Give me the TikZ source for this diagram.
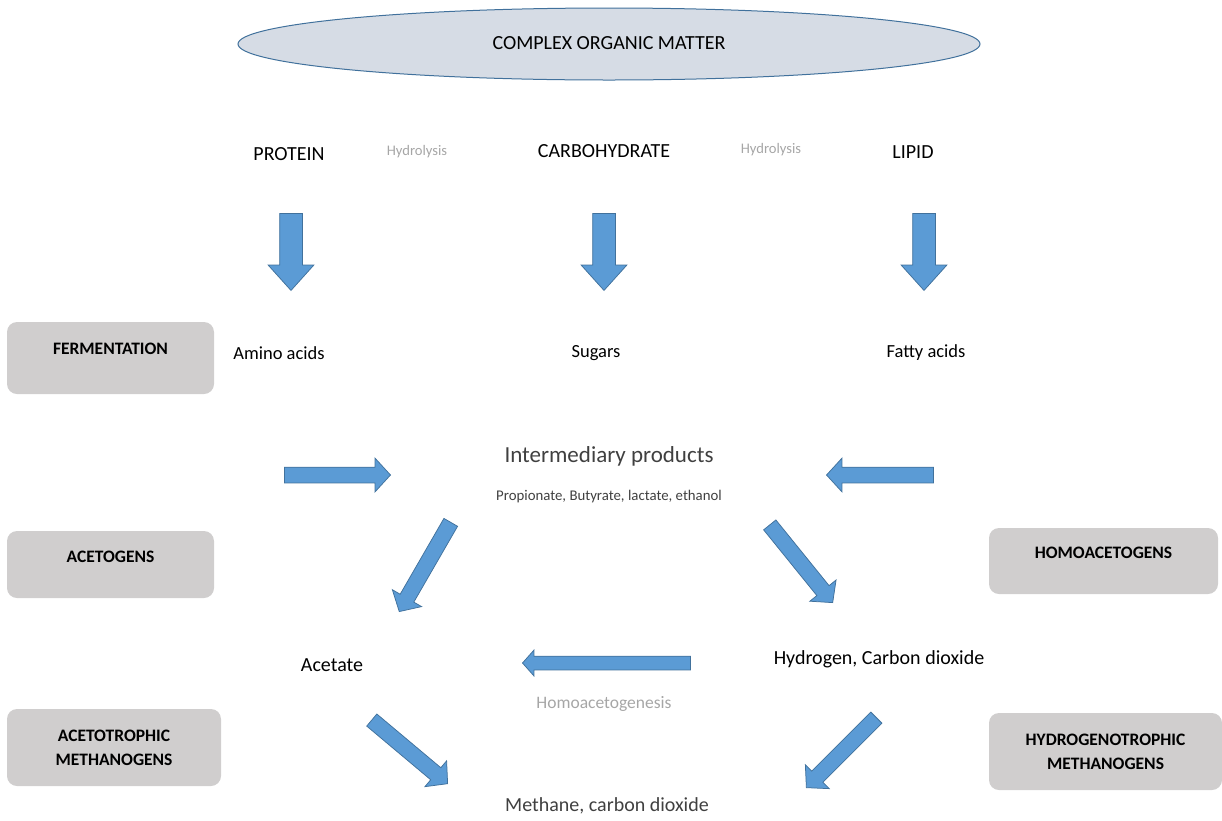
\documentclass[tikz,border=0pt]{standalone}
\usepackage{fontspec}
\setmainfont{Carlito}
\definecolor{arrowblue}{HTML}{5B9BD5}
\definecolor{arrowedge}{HTML}{41719C}
\definecolor{ovalfill}{HTML}{D6DCE5}
\definecolor{ovaledge}{HTML}{41719C}
\definecolor{boxgray}{HTML}{D0CECE}
\definecolor{notegray}{HTML}{A6A6A6}
\definecolor{textgray}{HTML}{404040}
\usetikzlibrary{shapes.geometric,shapes.arrows,positioning}

\begin{document}
\begin{tikzpicture}[
  x=1pt,y=-1pt,
  every node/.style={inner sep=0pt},
  big/.style={font=\fontsize{20}{24}\selectfont},
  mid/.style={font=\fontsize{18.5}{22}\selectfont},
  note/.style={font=\fontsize{14.6}{18}\selectfont,text=notegray},
  stagebox/.style={fill=boxgray,rounded corners=10pt,align=center,
                   font=\fontsize{17.5}{24}\selectfont\bfseries},
  blockarrow/.style={single arrow,draw=arrowedge,fill=arrowblue,line width=0.75pt,
                     inner xsep=0pt,inner ysep=7.5pt,single arrow head extend=9pt,
                     single arrow tip angle=95,anchor=tip},
  downarrow/.style={blockarrow,inner ysep=11pt,single arrow head extend=11.5pt,
                    single arrow tip angle=84,minimum height=77pt,rotate=-90},
]
  \useasboundingbox (0,0) rectangle (1222,820);

  % Top
  \node[ellipse,draw=ovaledge,fill=ovalfill,line width=1pt,
        minimum width=742pt,minimum height=72pt] (com) at (609,44) {};
  \node[big] (comtxt) at (609,43) {COMPLEX ORGANIC MATTER};

  \node[big] (protein) at (289,154) {PROTEIN};
  \node[note] (hyd1) at (417,152) {Hydrolysis};
  \node[big] (carb) at (604,151) {CARBOHYDRATE};
  \node[note] (hyd2) at (771,150) {Hydrolysis};
  \node[big] (lipid) at (913,152) {LIPID};

  \node[downarrow] (aprot) at (291,291) {};
  \node[downarrow] (acarb) at (604,291) {};
  \node[downarrow] (alip) at (924,291) {};

  % Stages
  \node[stagebox,minimum width=207pt,minimum height=72pt,text depth=18pt]
    (ferm) at (110.5,358) {FERMENTATION};
  \node[stagebox,minimum width=207pt,minimum height=67pt,text depth=15pt]
    (aceto) at (110.5,564.5) {ACETOGENS};
  \node[stagebox,minimum width=229pt,minimum height=66pt,text depth=16pt]
    (homo) at (1103.5,561) {HOMOACETOGENS};
  \node[stagebox,minimum width=214pt,minimum height=77pt]
    (acmeth) at (114,747.5) {ACETOTROPHIC\\METHANOGENS};
  \node[stagebox,minimum width=233pt,minimum height=77pt]
    (hymeth) at (1105.5,751.5) {HYDROGENOTROPHIC\\METHANOGENS};

  % Products
  \node[mid] (amino) at (279,353) {Amino acids};
  \node[mid] (sugar) at (596,353) {Sugars};
  \node[mid] (fatty) at (926,353) {Fatty acids};

  \node[font=\fontsize{23}{28}\selectfont,text=textgray] (inter) at (609,456) {Intermediary products};
  \node[font=\fontsize{14.8}{18}\selectfont,text=textgray] (intlist) at (609,497)
    {Propionate, Butyrate, lactate, ethanol};

  \node[blockarrow,minimum height=106pt] (ain) at (391,475) {};
  \node[blockarrow,minimum height=107pt,rotate=180] (aout) at (826,475) {};
  \node[blockarrow,minimum height=103pt,rotate=240] (aace) at (399,612) {};
  \node[blockarrow,minimum height=100pt,rotate=-51] (ahyd) at (833,603) {};

  \node[font=\fontsize{20}{24}\selectfont] (acetate) at (332,665) {Acetate};
  \node[font=\fontsize{20}{24}\selectfont] (h2co2) at (879,659) {Hydrogen, Carbon dioxide};
  \node[blockarrow,minimum height=168pt,inner ysep=6.5pt,single arrow head extend=6pt,
        single arrow tip angle=97,rotate=180] (ahomo) at (522,663) {};
  \node[note,font=\fontsize{17.5}{20}\selectfont] (homogen) at (604,704) {Homoacetogenesis};

  % Methane
  \node[blockarrow,minimum height=99pt,rotate=-40] (ameth1) at (448,784) {};
  \node[blockarrow,minimum height=99pt,rotate=225] (ameth2) at (806,788) {};
  \node[font=\fontsize{20}{24}\selectfont,text=textgray] (methane) at (607,806) {Methane, carbon dioxide};
\end{tikzpicture}
\end{document}
